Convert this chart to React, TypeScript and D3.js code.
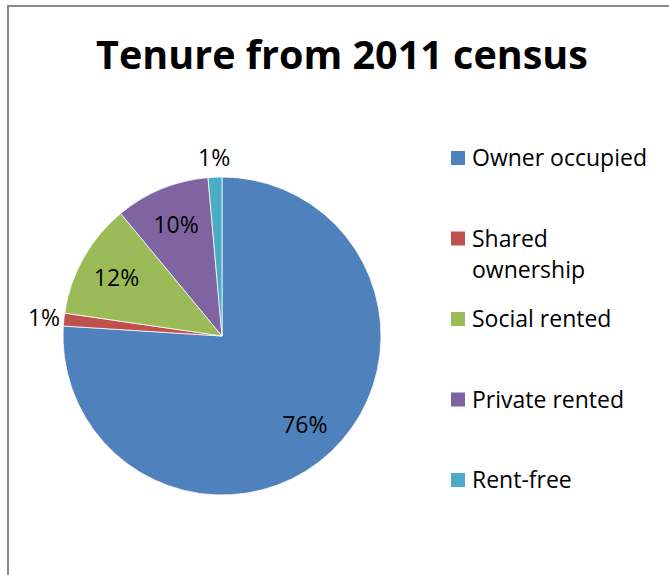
import React from "react";
import * as d3 from "d3";

const categories = ["Owner occupied", "Shared ownership", "Social rented", "Private rented", "Rent-free"];
const values = [76.0, 1.3, 11.7, 9.6, 1.4];
const colors = ["#4F81BD", "#C0504D", "#9BBB59", "#8064A2", "#4BACC6"];
const legendLines = [["Owner occupied"], ["Shared", "ownership"], ["Social rented"], ["Private rented"], ["Rent-free"]];
const title = "Tenure from 2011 census";

const W = 669, H = 575;
const cx = 222, cy = 336, R = 159;
const FONT = "'Open Sans', sans-serif";

export default function App() {
  const data = categories.map((c, i) => ({ c, v: values[i], i }));
  const pie = d3.pie<any>().value((d) => d.v).sort(null);
  const arcs = pie(data);
  const arc = d3.arc<any>().innerRadius(0).outerRadius(R);
  const total = d3.sum(values);
  const inner = d3.arc<any>().innerRadius(121).outerRadius(121);
  const outer = d3.arc<any>().innerRadius(179).outerRadius(179);
  const legendY = d3.scalePoint<number>().domain(d3.range(categories.length)).range([158, 480]);

  return (
    <svg width={W} height={H} style={{ position: "absolute", left: 0, top: 0, background: "#fff" }}>
      <rect x={8} y={6} width={W + 20} height={H + 20} fill="#fff" stroke="#878787" strokeWidth={2} />
      <text x={342} y={69} textAnchor="middle" fontFamily={FONT} fontWeight="bold" fontSize={39.5} fill="#000">
        {title}
      </text>
      <g transform={`translate(${cx},${cy})`}>
        {arcs.map((a, i) => (
          <path key={i} d={arc(a) as string} fill={colors[i]} stroke="#fff" strokeWidth={0.75} />
        ))}
        {arcs.map((a, i) => {
          const pct = (a.data.v / total) * 100;
          const small = pct < 3;
          const [x, y] = (small ? outer : inner).centroid(a);
          return (
            <text key={i} x={x} y={y} textAnchor="middle" dominantBaseline="central" fontFamily={FONT} fontSize={23} fill="#000">
              {`${Math.round(pct)}%`}
            </text>
          );
        })}
      </g>
      {categories.map((c, i) => {
        const yc = legendY(i) as number;
        return (
          <g key={c}>
            <rect x={451} y={yc - 7} width={14} height={14} fill={colors[i]} />
            {legendLines[i].map((ln, j) => (
              <text key={j} x={472} y={yc + 8 + j * 31} fontFamily={FONT} fontSize={23} fill="#000">
                {ln}
              </text>
            ))}
          </g>
        );
      })}
    </svg>
  );
}
